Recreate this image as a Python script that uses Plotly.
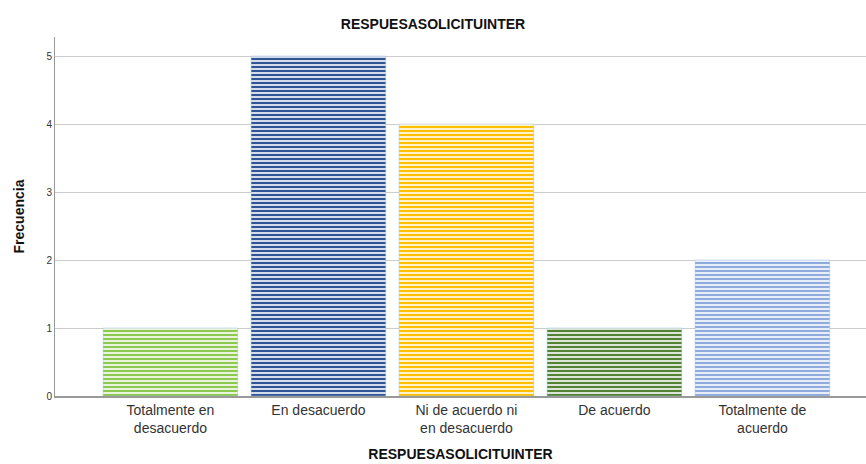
import plotly.graph_objects as go

categories = ["Totalmente en<br>desacuerdo", "En desacuerdo", "Ni de acuerdo ni<br>en desacuerdo", "De acuerdo", "Totalmente de<br>acuerdo"]
values = [1, 5, 4, 1, 2]
colors = ["#8DC94E", "#2F5597", "#FFC000", "#548235", "#8FAADC"]
y_ticks = [0, 1, 2, 3, 4, 5]

fig = go.Figure()
fig.add_trace(go.Bar(
    x=list(range(len(categories))),
    y=values,
    width=0.91,
    marker=dict(
        color="white",
        line=dict(color="#9DC3E6", width=0.5),
        pattern=dict(shape="-", fgcolor=colors, bgcolor="white", size=4, solidity=0.6, fillmode="replace"),
    ),
    hoverinfo="skip",
))

fig.update_layout(
    width=866, height=464,
    margin=dict(l=55, r=0, t=37, b=68),
    plot_bgcolor="white", paper_bgcolor="white",
    showlegend=False,
    font=dict(family="Liberation Sans, Arial, sans-serif", color="#222"),
    title=dict(text="<b>RESPUESASOLICITUINTER</b>", x=0.5, xanchor="center", y=0.948, yanchor="middle",
               font=dict(size=14, color="#111")),
)
fig.update_xaxes(
    range=[-0.78, 4.70],
    tickvals=list(range(len(categories))), ticktext=categories,
    tickfont=dict(size=14, color="#333"),
    showline=True, linecolor="#999", linewidth=2,
    showgrid=False, ticks="", ticklen=0,
    title=dict(text="<b>RESPUESASOLICITUINTER</b>", font=dict(size=14, color="#111"), standoff=14),
)
fig.update_yaxes(
    range=[0, 5.28],
    tickvals=y_ticks,
    tickfont=dict(size=10, color="#333"),
    showline=True, linecolor="#999", linewidth=1,
    showgrid=True, gridcolor="#CCCCCC", gridwidth=1,
    zeroline=False, ticks="", ticklen=6, tickcolor="white",
    title=dict(text="<b>Frecuencia</b>", font=dict(size=14, color="#111"), standoff=18),
)

fig.write_html("out.html")
